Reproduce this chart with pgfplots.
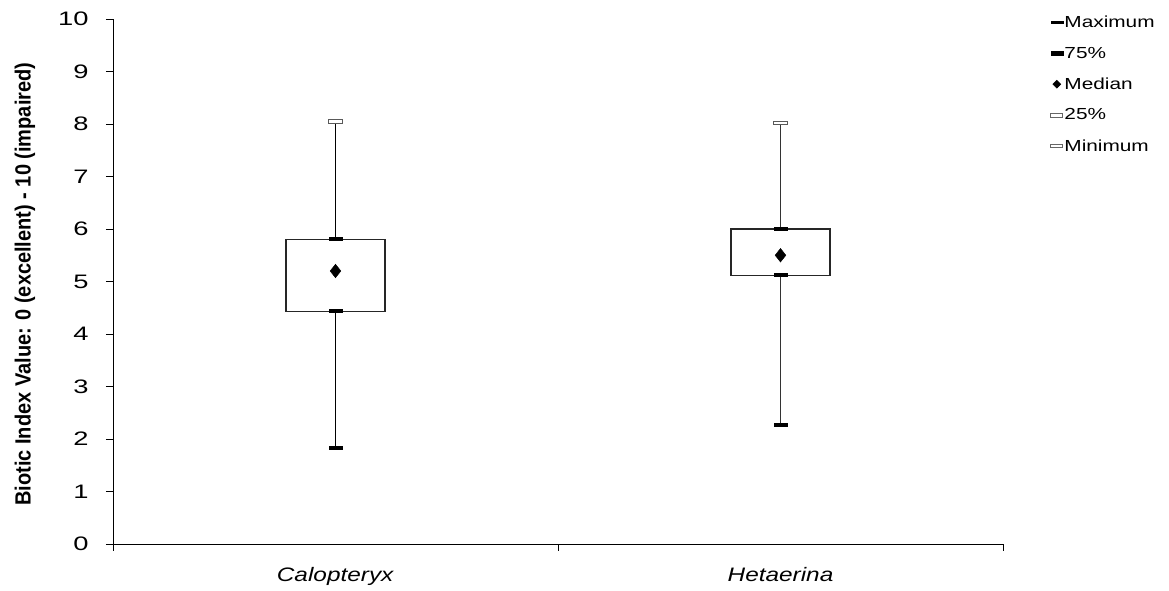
\documentclass[border=0pt]{standalone}
\usepackage{pgfplots}
\pgfplotsset{compat=1.18}
\usetikzlibrary{calc}
\usepackage{graphicx}
\usepackage{fontspec}
\setmainfont{Liberation Sans}
\pgfdeclareplotmark{capfill}{\pgfpathrectangle{\pgfpoint{-7pt}{-2pt}}{\pgfpoint{14pt}{4pt}}\pgfusepathqfill}
\pgfdeclareplotmark{caphollow}{\pgfpathrectangle{\pgfpoint{-7pt}{-1.6pt}}{\pgfpoint{14pt}{3.2pt}}\pgfusepathqfillstroke}
\begin{document}
\begin{tikzpicture}
\begin{axis}[
  scale only axis, width=890pt, height=525pt,
  xmin=0, xmax=2, ymin=0, ymax=10,
  axis lines*=left, axis line style={black, line width=0.9pt},
  tick align=outside, major tick length=7pt,
  tick style={black, line width=0.9pt},
  xtick={0,1,2}, xticklabels={},
  extra x ticks={0.5,1.5},
  extra x tick labels={\textit{Calopteryx},\textit{Hetaerina}},
  extra x tick style={major tick length=0pt, tick label style={yshift=-20pt, xscale=1.25/1.4}},
  ytick={0,1,...,10},
  /pgf/number format/assume math mode=true,
  tick label style={font=\fontsize{19.5}{22}\selectfont, xscale=1.4},
  yticklabel style={xshift=-9pt},
  ylabel={\scalebox{1}[1.1]{\textbf{Biotic Index Value: 0 (excellent) - 10 (impaired)}}},
  ylabel style={at={(axis description cs:-0.099,0.495)}, anchor=center, font=\fontsize{20}{22}\selectfont},
  legend style={at={(1.053,1.008)}, anchor=north west, draw=none, fill=none,
     font=\fontsize{16}{18}\selectfont, row sep=16pt, inner sep=0pt,
     legend cell align=left, nodes={xscale=1.3, inner sep=1pt}},
  clip=false,
]
% whiskers
\addplot[black, line width=1.4pt, forget plot] coordinates {(0.5,1.82) (0.5,4.43)};
\addplot[black, line width=1.4pt, forget plot] coordinates {(0.5,5.8) (0.5,8.05)};
\addplot[black!80, line width=1.4pt, forget plot] coordinates {(1.5,2.27) (1.5,5.12)};
\addplot[black!80, line width=1.4pt, forget plot] coordinates {(1.5,6.0) (1.5,8.02)};
% boxes
\addplot[black!85, line width=1.3pt, fill=white, forget plot] coordinates {(0.389,4.43) (0.611,4.43) (0.611,5.8) (0.389,5.8)} -- cycle;
\addplot[black!85, line width=1.3pt, fill=white, forget plot] coordinates {(1.389,5.12) (1.611,5.12) (1.611,6.0) (1.389,6.0)} -- cycle;
% Maximum
\addplot[only marks, mark=caphollow, mark options={draw=black!65, fill=white, line width=0.9pt},
  legend image code/.code={\fill[black] (0pt,-1pt) rectangle (12pt,1pt);}]
  coordinates {(0.5,8.05) (1.5,8.02)};
\addlegendentry{Maximum}
% 75%
\addplot[only marks, mark=capfill, mark options={fill=black},
  legend image code/.code={\fill[black] (0pt,-2pt) rectangle (12pt,2pt);}]
  coordinates {(0.5,5.8) (1.5,6.0)};
\addlegendentry{75\%}
% Median
\addplot[only marks, mark=diamond*, mark size=6.8pt, mark options={fill=black, draw=black, xscale=1.05},
  legend image code/.code={\fill[black] (6pt,-4pt) -- (10pt,0pt) -- (6pt,4pt) -- (2pt,0pt) -- cycle;}]
  coordinates {(0.5,5.2) (1.5,5.5)};
\addlegendentry{Median}
% 25%
\addplot[only marks, mark=capfill, mark options={fill=black},
  legend image code/.code={\draw[black!60, fill=white, line width=0.8pt] (0pt,-1.8pt) rectangle (12pt,1.8pt);}]
  coordinates {(0.5,4.43) (1.5,5.12)};
\addlegendentry{25\%}
% Minimum
\addplot[only marks, mark=capfill, mark options={fill=black},
  legend image code/.code={\draw[black!60, fill=white, line width=0.8pt] (0pt,-1.8pt) rectangle (12pt,1.8pt);}]
  coordinates {(0.5,1.82) (1.5,2.27)};
\addlegendentry{Minimum}
\end{axis}
\pgfresetboundingbox
\useasboundingbox ($(current axis.south west)+(-113pt,-47pt)$) rectangle ++(1169pt,591pt);
\end{tikzpicture}
\end{document}
